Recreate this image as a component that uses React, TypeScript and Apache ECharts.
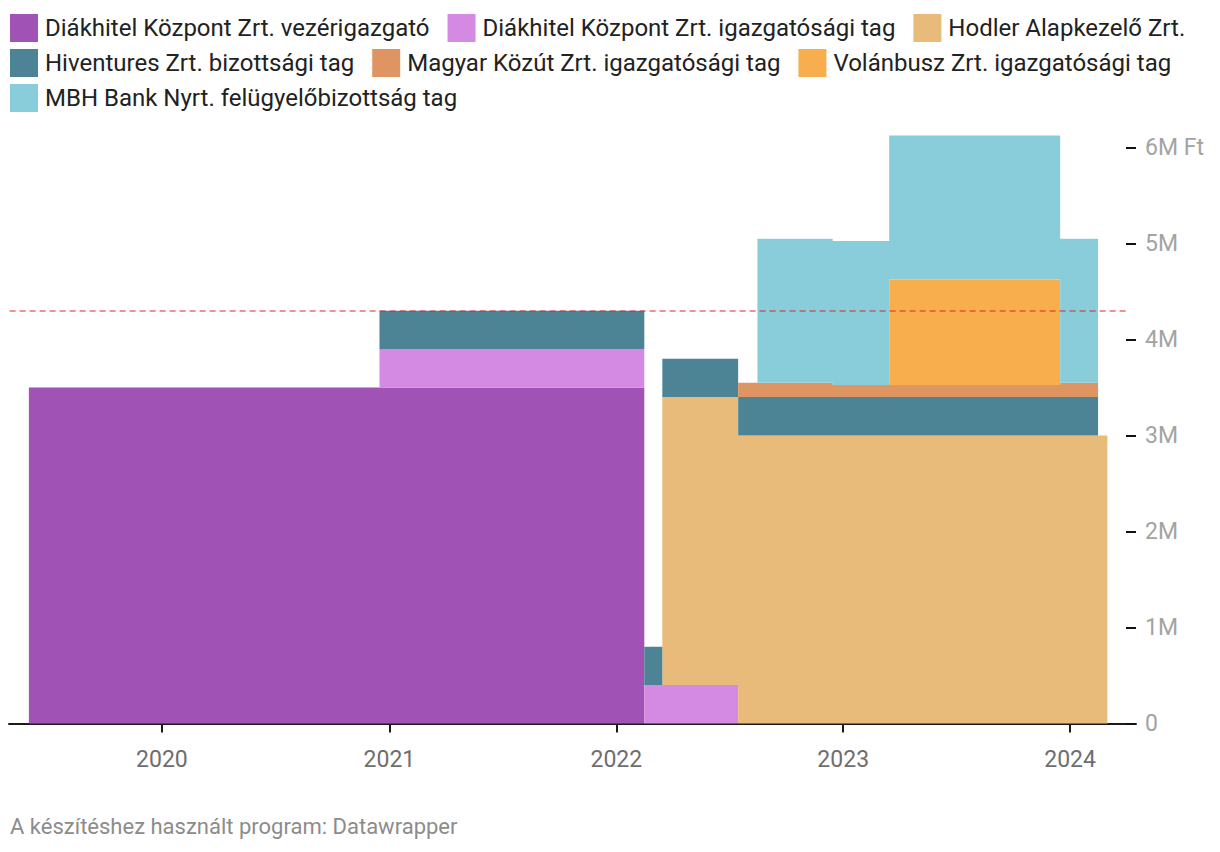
import React, { useEffect, useRef } from 'react';
import * as echarts from 'echarts';

// Step breakpoints: each value holds from its date until the next date
const breakDates = [
  '2019-06-01', '2020-12-16', '2022-02-15', '2022-03-16', '2022-07-16', '2022-08-16',
  '2022-12-15', '2023-03-16', '2023-12-16', '2024-02-15', '2024-03-01',
];

const seriesNames = [
  'Diákhitel Központ Zrt. vezérigazgató',
  'Diákhitel Központ Zrt. igazgatósági tag',
  'Hodler Alapkezelő Zrt.',
  'Hiventures Zrt. bizottsági tag',
  'Magyar Közút Zrt. igazgatósági tag',
  'Volánbusz Zrt. igazgatósági tag',
  'MBH Bank Nyrt. felügyelőbizottság tag',
];

// values in million Ft
const diakhitelVezerig = [3.5, 3.5, 0, 0, 0, 0, 0, 0, 0, 0, 0];
const diakhitelIgazg = [0, 0.4, 0.4, 0.4, 0, 0, 0, 0, 0, 0, 0];
const hodler = [0, 0, 0, 3.0, 3.0, 3.0, 3.0, 3.0, 3.0, 3.0, 0];
const hiventures = [0, 0.4, 0.4, 0.4, 0.4, 0.4, 0.4, 0.4, 0.4, 0, 0];
const magyarKozut = [0, 0, 0, 0, 0.15, 0.15, 0.125, 0.125, 0.15, 0, 0];
const volanbusz = [0, 0, 0, 0, 0, 0, 0, 1.1, 0, 0, 0];
const mbhBank = [0, 0, 0, 0, 0, 1.5, 1.5, 1.5, 1.5, 0, 0];

const referenceLine = 4.3;
const xTickYears = [2020, 2021, 2022, 2023, 2024];
const yTickValues = [0, 1, 2, 3, 4, 5, 6];
const footerText = 'A készítéshez használt program: Datawrapper';

const colors = ['#a153b5', '#d48ae3', '#e8bb7a', '#4c8395', '#de9562', '#f8ae4c', '#88cdd9'];

function toMs(s: string): number {
  const [y, m, d] = s.split('-').map(Number);
  return new Date(y, m - 1, d).getTime();
}

export default function App() {
  const ref = useRef<HTMLDivElement>(null);

  useEffect(() => {
    document.body.style.margin = '0';
    if (!ref.current) return;
    const chart = echarts.init(ref.current, null, { renderer: 'svg' });

    const allValues = [diakhitelVezerig, diakhitelIgazg, hodler, hiventures, magyarKozut, volanbusz, mbhBank];
    const tickVals = xTickYears.map((y) => new Date(y, 0, 1).getTime());
    const legendRows = [seriesNames.slice(0, 3), seriesNames.slice(3, 6), seriesNames.slice(6)];
    const legendTops = [14, 49, 84];
    const font = 'Roboto';
    const xMin = toMs('2019-04-30');
    const xMax = toMs('2024-04-16');

    const series: any[] = allValues.map((vals, i) => ({
      name: seriesNames[i],
      type: 'line',
      xAxisIndex: 0,
      yAxisIndex: 0,
      stack: 'total',
      stackStrategy: 'all',
      step: 'end',
      symbol: 'none',
      showSymbol: false,
      clip: false,
      silent: true,
      color: colors[i],
      itemStyle: { color: colors[i] },
      lineStyle: { width: 0, color: colors[i] },
      areaStyle: { color: colors[i], opacity: 1 },
      emphasis: { disabled: true },
      data: breakDates.map((d, k) => [toMs(d), vals[k]]),
    }));

    series[series.length - 1].markLine = {
      silent: true,
      symbol: ['none', 'none'],
      label: { show: false },
      lineStyle: { color: 'rgba(214,40,40,0.5)', type: [6, 4], width: 2 },
      data: [[{ coord: [toMs('2019-05-01'), referenceLine] }, { coord: [toMs('2024-04-01'), referenceLine] }]],
    };

    chart.setOption({
      animation: false,
      textStyle: { fontFamily: font },
      grid: { left: 9, right: 84, top: 147.5, height: 576, containLabel: false },
      legend: legendRows.map((row, r) => ({
        data: row,
        left: 10,
        top: legendTops[r],
        orient: 'horizontal',
        icon: 'rect',
        itemWidth: 28,
        itemHeight: 28,
        itemGap: 18,
        padding: 0,
        selectedMode: false,
        itemStyle: { borderWidth: 0 },
        textStyle: { fontSize: 24, color: '#222', fontFamily: font, padding: [0, 0, 0, 2] },
      })),
      xAxis: [
        {
          type: 'time',
          position: 'bottom',
          min: xMin,
          max: xMax,
          axisLine: { show: true, lineStyle: { color: '#1a1a1a', width: 2 } },
          axisTick: { show: false },
          axisLabel: { show: false },
          splitLine: { show: false },
        },
        {
          type: 'value',
          position: 'bottom',
          min: xMin,
          max: xMax,
          axisLine: { show: false },
          axisTick: { show: true, length: 9, lineStyle: { color: '#1a1a1a', width: 2 }, customValues: tickVals },
          axisLabel: {
            customValues: tickVals,
            formatter: (v: number) => String(new Date(v).getFullYear()),
            color: '#6e6e6e',
            fontSize: 23,
            fontFamily: font,
            margin: 24,
          },
          splitLine: { show: false },
        },
      ],
      yAxis: {
        type: 'value',
        position: 'right',
        min: 0,
        max: 6,
        interval: 1,
        axisLine: { show: false },
        axisTick: { show: true, inside: true, length: 10, lineStyle: { color: '#111', width: 2 }, customValues: yTickValues },
        axisLabel: {
          customValues: yTickValues,
          margin: 9,
          color: '#a3a3a3',
          fontSize: 23,
          fontFamily: font,
          formatter: (v: number) => (v === 0 ? '0' : v === 6 ? '6M Ft' : v + 'M'),
        },
        splitLine: { show: false },
      },
      graphic: [
        {
          type: 'text',
          left: 10,
          top: 815,
          style: { text: footerText, fill: '#8c8c8c', font: '22px Roboto' },
        },
      ],
      series,
    });

    return () => chart.dispose();
  }, []);

  return <div ref={ref} style={{ width: 1220, height: 852 }} />;
}
